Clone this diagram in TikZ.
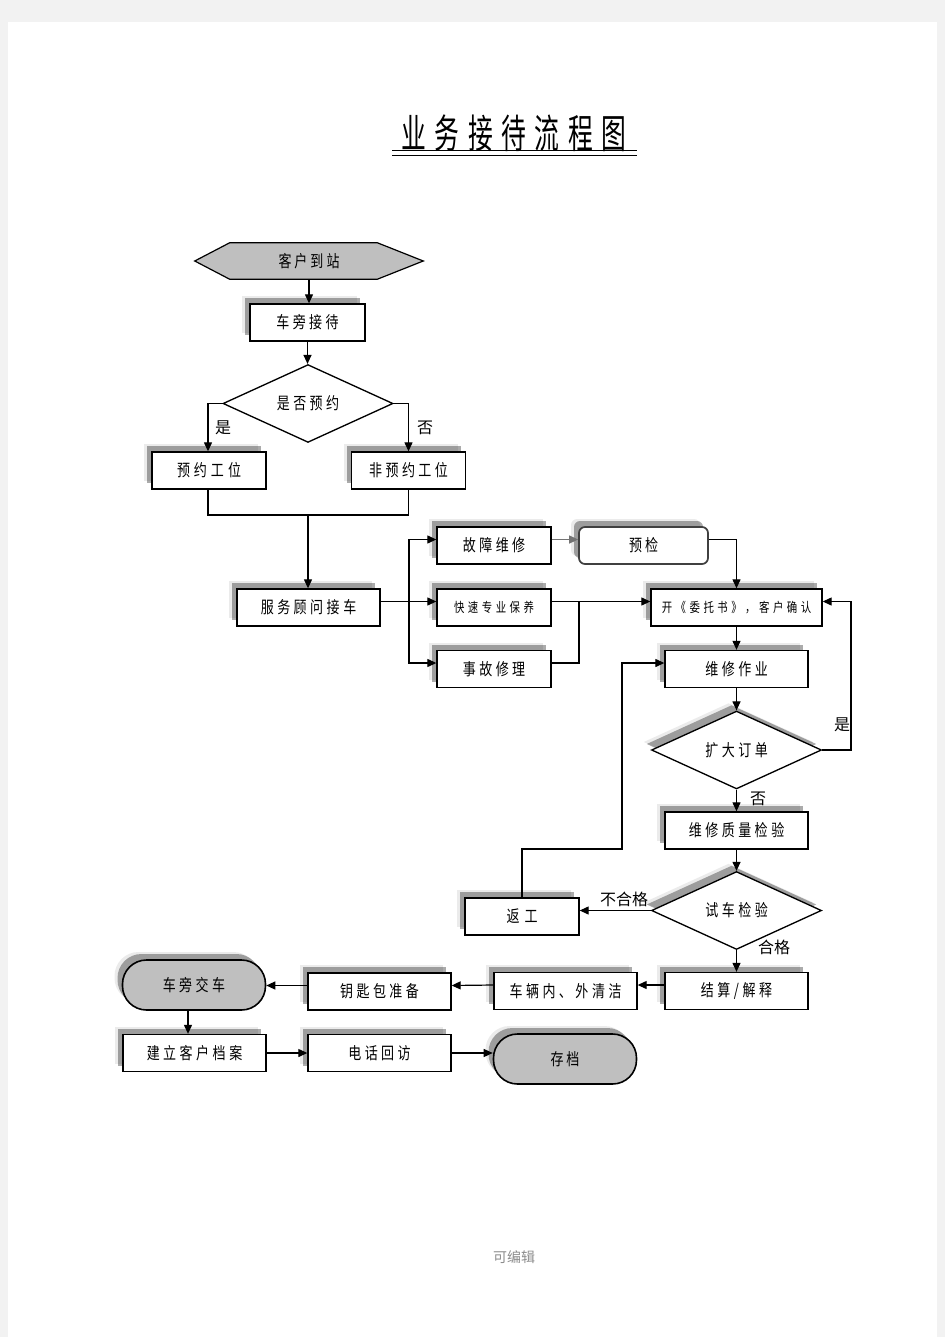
\documentclass[tikz,border=0pt]{standalone}
\usepackage{fontspec}
\setmainfont{Noto Sans CJK SC}
\newfontfamily\cjk{Noto Sans CJK SC}
\newfontfamily\cjkn[FakeStretch=0.78]{Noto Sans CJK SC}
\newfontfamily\cjkt[FakeStretch=0.62]{Noto Sans CJK SC}
\usetikzlibrary{shapes.geometric,arrows.meta,shadows}
\newdimen\PX \PX=0.75pt
\makeatletter
\newcommand\ls[2]{\def\ls@k{#1}\ls@first#2\relax}
\def\ls@first#1{#1\ls@loop}
\def\ls@loop#1{\ifx#1\relax\else\kern\ls@k\relax#1\expandafter\ls@loop\fi}
\makeatother
\tikzset{
  shadowed/.style={
    drop shadow={shadow xshift=-8\PX, shadow yshift=8\PX, fill=black, opacity=.08},
    drop shadow={shadow xshift=-5\PX, shadow yshift=6\PX, fill=black, opacity=.33}},
  base/.style={font=\cjkn\fontsize{12.5}{15}\selectfont, inner sep=0pt, align=center},
  small/.style={font=\cjkn\fontsize{10}{12}\selectfont},
  box/.style={base, draw, line width=1pt, fill=white, minimum height=37\PX, shadowed},
  dia/.style={base, diamond, draw, line width=1pt, fill=white, minimum width=170\PX, minimum height=73\PX},
  stad/.style={base, draw, line width=1.2pt, fill=black!25, rounded corners=24\PX,
    minimum width=143\PX, minimum height=50\PX, shadowed},
  lab/.style={font=\cjk\fontsize{12}{14}\selectfont, inner sep=0pt},
  line/.style={draw, line width=0.9pt},
  arr/.style={line, -{Triangle[length=6.75pt, width=6pt]}},
}
\begin{document}
\begin{tikzpicture}[x=0.75pt, y=-0.75pt]
\useasboundingbox (0,0) rectangle (945,1337);
\fill[black!5] (0,0) rectangle (945,1337);
\fill[white] (8,22) rectangle (937,1337);

% title
\node[font=\cjkt\fontsize{30}{34}\selectfont, inner sep=0pt] (title) at (514,133) {\ls{8.5\PX}{业务接待流程图}};
\draw[line width=1.3pt] (392,150.5) -- (637,150.5);
\draw[line width=1.3pt] (392,155.5) -- (637,155.5);

% nodes
\node[base, minimum width=228\PX, minimum height=36\PX] (n1) at (309,261) {};
\filldraw[fill=black!25, line width=0.9pt] (n1.west) -- ([xshift=35\PX]n1.north west) -- ([xshift=-46\PX]n1.north east)
  -- (n1.east) -- ([xshift=-46\PX]n1.south east) -- ([xshift=35\PX]n1.south west) -- cycle;
\node[base] at (n1.center) {\ls{3\PX}{客户到站}};

\node[box, minimum width=115\PX] (n2) at (307.5,322.5) {\ls{3.5\PX}{车旁接待}};
\node[dia] (n3) at (308,403.5) {\ls{3.5\PX}{是否预约}};
\node[box, minimum width=114\PX] (n4) at (209,470.5) {\ls{4\PX}{预约工位}};
\node[box, minimum width=114\PX] (n5) at (408.5,470.5) {\ls{3.5\PX}{非预约工位}};
\node[box, minimum width=143\PX] (n6) at (308.5,607.5) {\ls{3.5\PX}{服务顾问接车}};
\node[box, minimum width=114\PX] (n7) at (494,545.5) {\ls{3.5\PX}{故障维修}};
\node[box, minimum width=114\PX, small] (n8) at (494,607.5) {\ls{3.5\PX}{快速专业保养}};
\node[box, minimum width=114\PX] (n9) at (494,669) {\ls{3.5\PX}{事故修理}};
\node[box, minimum width=129\PX, rounded corners=6\PX, draw=black!75, line width=1.3pt] (n10) at (643.5,545.5) {\ls{3\PX}{预检}};
\node[box, minimum width=171\PX, small] (n11) at (736.5,607.5) {\ls{3.5\PX}{开《委托书》，客户确认}};
\node[box, minimum width=143\PX] (n12) at (736.5,669) {\ls{3.5\PX}{维修作业}};
\node[dia, shadowed] (n13) at (736.5,750) {\ls{3.5\PX}{扩大订单}};
\node[box, minimum width=143\PX] (n14) at (736.5,830.5) {\ls{3.5\PX}{维修质量检验}};
\node[dia, shadowed] (n15) at (736.5,910.5) {\ls{3.5\PX}{试车检验}};
\node[box, minimum width=114\PX] (n16) at (522,916.5) {\ls{5\PX}{返工}};
\node[box, minimum width=143\PX] (n17) at (736.5,991) {\ls{3.5\PX}{结算/解释}};
\node[box, minimum width=143\PX] (n18) at (565.5,991) {\ls{3.5\PX}{车辆内、外清洁}};
\node[box, minimum width=143\PX] (n19) at (379.5,991.5) {\ls{3.5\PX}{钥匙包准备}};
\node[stad] (n20) at (194,985) {\ls{3.5\PX}{车旁交车}};
\node[box, minimum width=143\PX] (n21) at (194.5,1053) {\ls{3.5\PX}{建立客户档案}};
\node[box, minimum width=143\PX] (n22) at (379.5,1053) {\ls{3.5\PX}{电话回访}};
\node[stad] (n23) at (565,1059) {\ls{3\PX}{存档}};

% labels
\node[lab] (l1) at (223,428) {是};
\node[lab] (l2) at (425,428) {否};
\node[lab] (l3) at (842,725) {是};
\node[lab] (l4) at (758,799) {否};
\node[lab] (l5) at (624,899) {不合格};
\node[lab] (l6) at (774,947) {合格};

% connectors
\draw[arr] (n1.south) -- (n1.south |- n2.north);
\draw[arr] (n2.south) -- (n2.south |- n3.north);
\draw[arr] (n3.west) -| ([xshift=-1\PX]n4.north);
\draw[arr] (n3.east) -| (n5.north);
\coordinate (j1) at (308,515);
\draw[line] ([xshift=-1\PX]n4.south) |- (j1) -| (n5.south);
\draw[arr] (j1) -- (j1 |- n6.north);
\coordinate (b) at (409,601.5);
\draw[arr] ([yshift=6\PX]n6.east) -- ([yshift=6\PX]n8.west);
\draw[arr] (b) |- ([yshift=6\PX]n7.west);
\draw[arr] (b) |- ([yshift=6\PX]n9.west);
\draw[arr, draw=black!55] ([yshift=6\PX]n7.east) -- ([yshift=6\PX]n10.west);
\draw[arr] ([yshift=6\PX]n10.east) -| (n11.north);
\draw[arr] ([yshift=6\PX]n8.east) -- ([yshift=6\PX]n11.west);
\coordinate (j2) at (579,601.5);
\draw[line] ([yshift=6\PX]n9.east) -| (j2);
\draw[arr] (n11.south) -- (n12.north);
\draw[arr] (n12.south) -- (n13.north);
\coordinate (j3) at (851,601.5);
\draw[arr] (n13.east) -| (j3) -- ([yshift=6\PX]n11.east);
\draw[arr] (n13.south) -- (n14.north);
\draw[arr] (n14.south) -- (n15.north);
\draw[arr] (n15.west) -- (n15.west -| n16.east);
\coordinate (j4) at (622,849);
\draw[arr] (n16.north) |- (j4) |- ([yshift=6\PX]n12.west);
\draw[arr] (n15.south) -- (n17.north);
\draw[arr] ([yshift=6\PX]n17.west) -- ([yshift=6\PX]n18.east);
\draw[arr] ([yshift=6\PX]n18.west) -- ([yshift=6\PX]n19.east);
\draw[arr] ([yshift=6\PX]n19.west) -- ([yshift=6\PX]n19.west -| n20.east);
\draw[arr] ([xshift=-6\PX]n20.south) -- ([xshift=-6\PX]n20.south |- n21.north);
\draw[arr] (n21.east) -- (n21.east -| n22.west);
\draw[arr] (n22.east) -- (n22.east -| n23.west);

% footer
\node[font=\cjk\fontsize{10.5}{12}\selectfont, text=black!45, inner sep=0pt] (foot) at (514,1257) {可编辑};
\end{tikzpicture}
\end{document}
